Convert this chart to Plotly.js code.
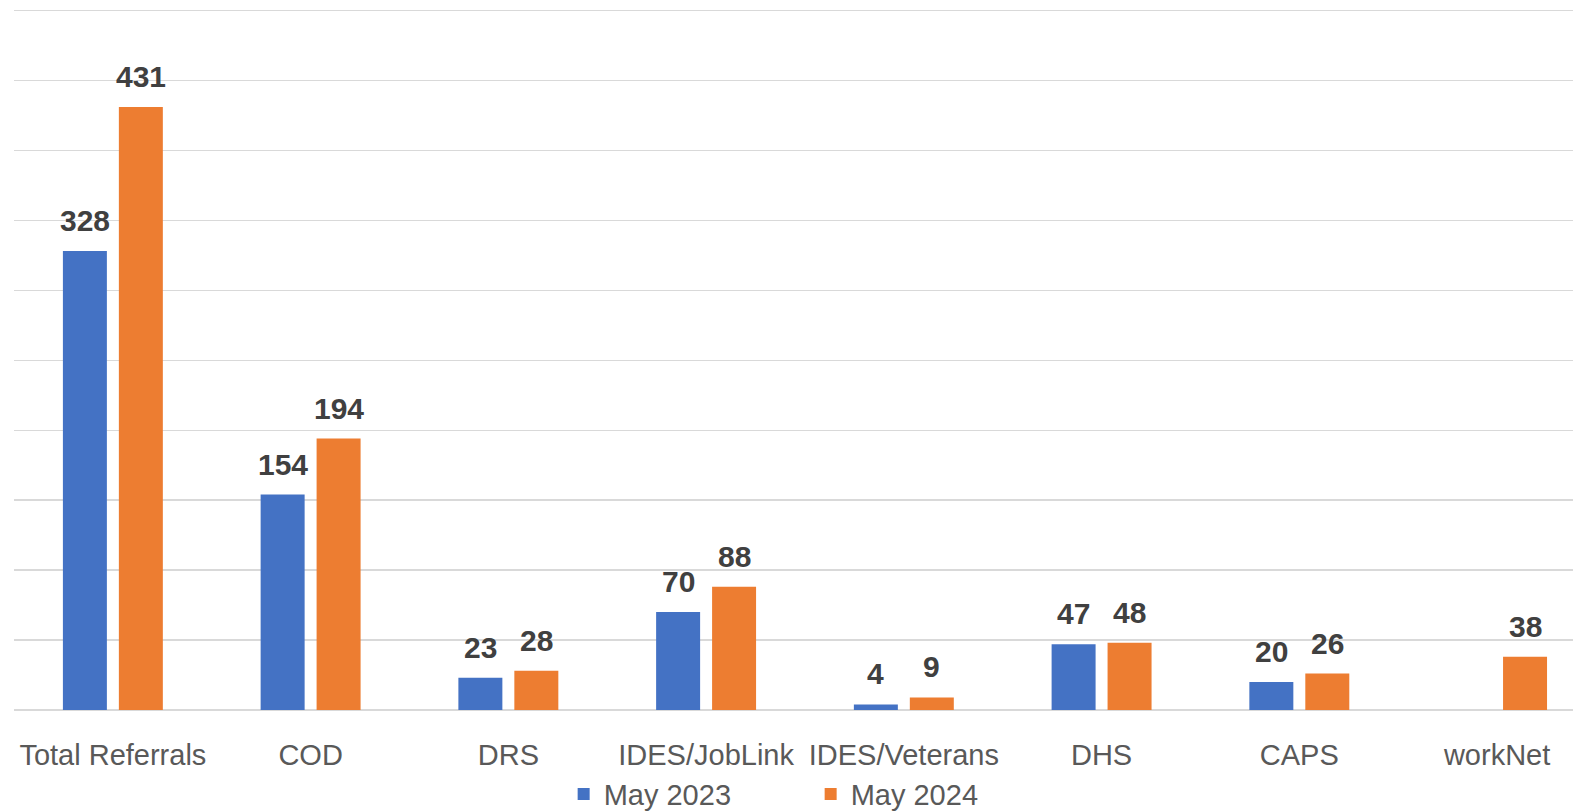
<!DOCTYPE html>
<html>
<head>
<meta charset="utf-8">
<script src="https://cdn.plot.ly/plotly-3.0.1.min.js"></script>
<style>
  html, body { margin: 0; padding: 0; background: #ffffff; }
  #chart { width: 1573px; height: 811px; }
</style>
</head>
<body>
<div id="chart"></div>
<script>
const categories = ["Total Referrals", "COD", "DRS", "IDES/JobLink", "IDES/Veterans", "DHS", "CAPS", "workNet"];
const may2023 = [328, 154, 23, 70, 4, 47, 20, null];
const may2024 = [431, 194, 28, 88, 9, 48, 26, 38];
const seriesNames = ["May 2023", "May 2024"];

const FONT = "Liberation Sans, Arial, sans-serif";
const labelFont = { family: FONT, size: 30, color: "#404040", weight: "bold" };

function barTrace(name, values, color) {
  return {
    type: "bar",
    name: name,
    x: categories,
    y: values,
    marker: { color: color },
    hoverinfo: "x+y"
  };
}

const data = [
  barTrace(seriesNames[0], may2023, "#4472C4"),
  barTrace(seriesNames[1], may2024, "#ED7D31")
];

// value labels above each bar (offset left/right to sit over its bar in the group)
const annotations = [];
[[may2023, -28], [may2024, 28]].forEach(([vals, dx]) => {
  vals.forEach((v, i) => {
    if (v === null) return;
    annotations.push({
      x: categories[i], y: v, xref: "x", yref: "y",
      text: "<b>" + v + "</b>",
      showarrow: false,
      xshift: dx, yshift: 12,
      xanchor: "center", yanchor: "bottom",
      font: labelFont
    });
  });
});

const layout = {
  width: 1573,
  height: 811,
  margin: { l: 14, r: 0, t: 9.1, b: 101, pad: 0, autoexpand: false },
  paper_bgcolor: "#ffffff",
  plot_bgcolor: "#ffffff",
  barmode: "group",
  bargap: 0.434,
  bargroupgap: 0.214,
  showlegend: true,
  legend: {
    orientation: "h",
    x: 0.511,
    xanchor: "center",
    y: -0.12,
    yanchor: "middle",
    font: { family: FONT, size: 29, color: "#595959" },
    entrywidth: 202,
    entrywidthmode: "pixels",
    bgcolor: "rgba(0,0,0,0)"
  },
  annotations: annotations,
  xaxis: {
    type: "category",
    range: [-0.5, 7.384],
    showgrid: false,
    showline: false,
    zeroline: false,
    ticks: "",
    ticklabelstandoff: 25,
    tickfont: { family: FONT, size: 29, color: "#595959" },
    fixedrange: true
  },
  yaxis: {
    range: [0, 501],
    tickvals: [0, 50, 100, 150, 200, 250, 300, 350, 400, 450, 500],
    showgrid: true,
    gridcolor: "#d9d9d9",
    gridwidth: 1.3,
    zeroline: true,
    zerolinecolor: "#d9d9d9",
    zerolinewidth: 1.3,
    showticklabels: false,
    ticks: "",
    fixedrange: true
  }
};

Plotly.newPlot("chart", data, layout, { displayModeBar: false, staticPlot: true });
</script>
</body>
</html>
